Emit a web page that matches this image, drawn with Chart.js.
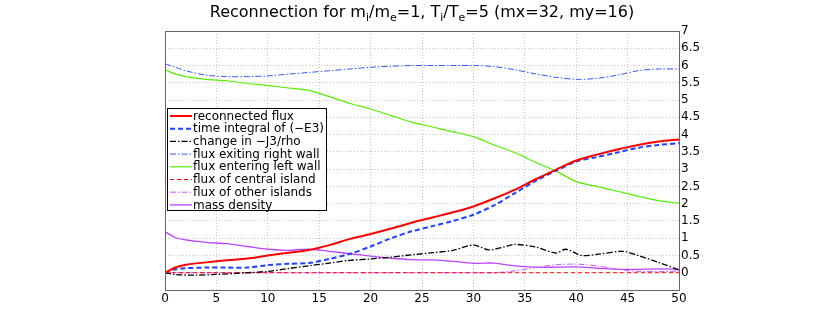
<!DOCTYPE html>
<html>
<head>
<meta charset="utf-8">
<script src="https://cdn.jsdelivr.net/npm/chart.js@4.4.0/dist/chart.umd.min.js"></script>
<style>
  html, body { margin: 0; padding: 0; background: #fff; }
  #wrap { width: 817px; height: 327px; position: relative; }
</style>
</head>
<body>
<div id="wrap"><canvas id="chart"></canvas></div>
<script>
// Time samples shared by most curves
const t = [0, 1, 2, 4, 6, 8, 10, 12, 14, 16, 18, 20, 22, 24, 26, 28, 30, 32, 34, 36, 38, 40, 42, 44, 46, 48, 50];

const reconnected = [0, 0.15, 0.23, 0.3, 0.36, 0.41, 0.5, 0.58, 0.66, 0.8, 0.98, 1.12, 1.28, 1.45, 1.6, 1.75, 1.92, 2.15, 2.4, 2.7, 2.98, 3.25, 3.42, 3.57, 3.7, 3.8, 3.86];
const intE3 = [0, 0.1, 0.13, 0.15, 0.15, 0.15, 0.22, 0.26, 0.28, 0.4, 0.55, 0.76, 1.0, 1.2, 1.35, 1.5, 1.68, 1.95, 2.3, 2.65, 2.95, 3.22, 3.35, 3.48, 3.62, 3.7, 3.75];
const rightWall = [6.05, 5.95, 5.85, 5.72, 5.68, 5.68, 5.7, 5.75, 5.8, 5.85, 5.9, 5.95, 5.98, 6.0, 6.0, 6.0, 6.0, 5.97, 5.88, 5.76, 5.66, 5.6, 5.63, 5.72, 5.85, 5.9, 5.9];
const leftWall = [5.88, 5.75, 5.68, 5.6, 5.56, 5.48, 5.42, 5.35, 5.28, 5.1, 4.9, 4.74, 4.55, 4.36, 4.22, 4.08, 3.94, 3.7, 3.48, 3.2, 2.95, 2.64, 2.5, 2.36, 2.22, 2.09, 2.01];
const centralIsland = [0, 0, 0, 0, 0, 0, 0, 0, 0, 0, 0, 0, 0, 0, 0, 0, 0, 0, 0, 0, 0, 0, 0, 0, 0, 0, 0];
const otherIslands = [0, 0, 0, 0, 0, 0, 0, 0, 0, 0, 0, 0, 0, 0, 0, 0, 0, 0, 0.05, 0.15, 0.23, 0.25, 0.2, 0.1, 0.04, 0.03, 0.05];
const massDensity = [1.19, 1.02, 0.95, 0.88, 0.84, 0.76, 0.68, 0.65, 0.68, 0.62, 0.55, 0.48, 0.42, 0.38, 0.37, 0.33, 0.27, 0.28, 0.2, 0.16, 0.16, 0.17, 0.13, 0.1, 0.1, 0.11, 0.1];

// change in -J3/rho has its own samples (it wiggles more)
const tJ = [0, 1, 3, 5, 8, 10, 12, 14, 16, 18, 20, 22, 24, 26, 28, 30, 31.5, 33, 34, 36, 38, 39, 40.5, 42, 44.5, 46, 48, 50];
const changeJ3 = [0, -0.05, -0.07, -0.05, 0, 0.04, 0.12, 0.2, 0.28, 0.36, 0.4, 0.45, 0.52, 0.58, 0.65, 0.8, 0.66, 0.75, 0.82, 0.75, 0.57, 0.68, 0.5, 0.53, 0.62, 0.5, 0.3, 0.08];

const xTicks = [0, 5, 10, 15, 20, 25, 30, 35, 40, 45, 50];
const yTicks = [0, 0.5, 1, 1.5, 2, 2.5, 3, 3.5, 4, 4.5, 5, 5.5, 6, 6.5, 7];

const pts = (xs, ys) => xs.map((x, i) => ({ x: x, y: ys[i] }));

const FONT = "'DejaVu Sans', sans-serif";

const series = [
  { label: "reconnected flux", data: pts(t, reconnected), color: "#ff0000", width: 2, dash: [] },
  { label: "time integral of (\u2212E3)", data: pts(t, intE3), color: "#2040ff", width: 2, dash: [5, 3] },
  { label: "change in \u2212J3/rho", data: pts(tJ, changeJ3), color: "#000000", width: 1.3, dash: [6, 2, 1.5, 2] },
  { label: "flux exiting right wall", data: pts(t, rightWall), color: "#3355ff", width: 1, dash: [6, 2, 1.5, 2] },
  { label: "flux entering left wall", data: pts(t, leftWall), color: "#55ee00", width: 1.2, dash: [] },
  { label: "flux of central island", data: pts(t, centralIsland), color: "#ff0000", width: 1, dash: [4, 3] },
  { label: "flux of other islands", data: pts(t, otherIslands), color: "#cc55ff", width: 1, dash: [6, 2, 1.5, 2] },
  { label: "mass density", data: pts(t, massDensity), color: "#bb44ff", width: 1.3, dash: [] },
];

// Box around the plot, title with subscripts and a legend inside the axes
const decorations = {
  id: "decorations",
  afterDraw(chart) {
    const { ctx, chartArea: a } = chart;
    ctx.save();
    ctx.strokeStyle = "#666";
    ctx.lineWidth = 1;
    ctx.setLineDash([]);
    ctx.strokeRect(a.left + 0.5, a.top + 0.5, a.right - a.left, a.bottom - a.top);

    // title
    const parts = [
      ["Reconnection for m", 0], ["i", 1], ["/m", 0], ["e", 1], ["=1, T", 0], ["i", 1],
      ["/T", 0], ["e", 1], ["=5 (mx=32, my=16)", 0],
    ];
    const big = "16px " + FONT, small = "11px " + FONT;
    let w = 0;
    parts.forEach(([s, sub]) => { ctx.font = sub ? small : big; w += ctx.measureText(s).width; });
    let x = (a.left + a.right) / 2 - w / 2;
    ctx.fillStyle = "#000";
    ctx.textBaseline = "alphabetic";
    parts.forEach(([s, sub]) => {
      ctx.font = sub ? small : big;
      ctx.fillText(s, x, sub ? 21 : 17);
      x += ctx.measureText(s).width;
    });

    // legend
    const lx = 167, ly = 108, lw = 159, lh = 102, row = 12.7;
    ctx.fillStyle = "#fff";
    ctx.fillRect(lx, ly, lw, lh);
    ctx.strokeStyle = "#000";
    ctx.strokeRect(lx + 0.5, ly + 0.5, lw, lh);
    ctx.font = "12px " + FONT;
    ctx.textBaseline = "middle";
    series.forEach((s, i) => {
      const y = ly + 8 + i * row;
      ctx.strokeStyle = s.color;
      ctx.lineWidth = s.width;
      ctx.setLineDash(s.dash);
      ctx.beginPath();
      ctx.moveTo(lx + 3, y);
      ctx.lineTo(lx + 25, y);
      ctx.stroke();
      ctx.fillStyle = "#000";
      ctx.fillText(s.label, lx + 26, y + 0.5);
    });
    ctx.restore();
  },
};

new Chart(document.getElementById("chart"), {
  type: "line",
  plugins: [decorations],
  data: {
    datasets: series.map((s) => ({
      label: s.label,
      data: s.data,
      borderColor: s.color,
      borderWidth: s.width,
      borderDash: s.dash,
      pointRadius: 0,
      tension: 0.3,
      fill: false,
    })),
  },
  options: {
    responsive: true,
    maintainAspectRatio: false,
    animation: false,
    layout: { padding: { left: 165, top: 31, right: 0, bottom: 0 } },
    plugins: { legend: { display: false }, tooltip: { enabled: false }, title: { display: false } },
    scales: {
      x: {
        type: "linear",
        min: 0,
        max: 50,
        afterBuildTicks: (axis) => { axis.ticks = xTicks.map((v) => ({ value: v })); },
        afterFit: (axis) => { axis.height = 37; },
        ticks: { color: "#000", font: { size: 12, family: FONT }, padding: 2, maxRotation: 0, autoSkip: false },
        grid: { color: "#c8c8c8", drawTicks: false },
        border: { display: true, color: "#666", dash: [1, 2] },
      },
      y: {
        position: "right",
        min: -0.5,
        max: 7,
        afterBuildTicks: (axis) => { axis.ticks = [-0.5].concat(yTicks).map((v) => ({ value: v })); },
        afterFit: (axis) => { axis.width = 138; },
        ticks: {
          color: "#000",
          font: { size: 12, family: FONT },
          padding: 2,
          autoSkip: false,
          callback: (v) => (v < 0 ? "" : String(v)),
        },
        grid: { color: "#c8c8c8", drawTicks: false },
        border: { display: true, color: "#666", dash: [1, 2] },
      },
    },
  },
});
</script>
</body>
</html>
